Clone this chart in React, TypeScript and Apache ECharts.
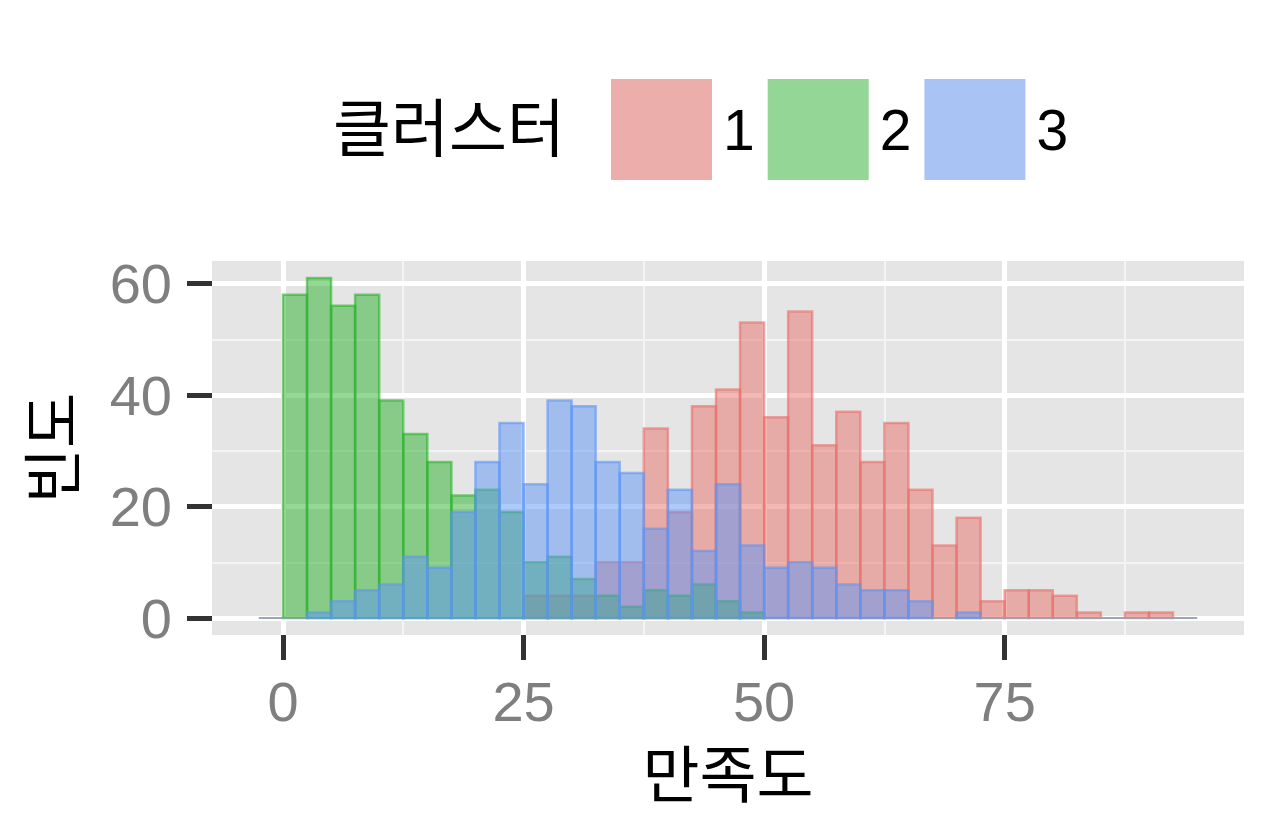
import React, { useEffect, useRef } from "react";
import * as echarts from "echarts";

// histogram bins (binwidth 2.5), 40 edges -> 39 bins
const binEdges = [
  -2.5, 0, 2.5, 5, 7.5, 10, 12.5, 15, 17.5, 20, 22.5, 25, 27.5, 30, 32.5, 35,
  37.5, 40, 42.5, 45, 47.5, 50, 52.5, 55, 57.5, 60, 62.5, 65, 67.5, 70, 72.5,
  75, 77.5, 80, 82.5, 85, 87.5, 90, 92.5, 95,
];

const cluster1 = [
  0, 0, 0, 0, 0, 0, 0, 0, 0, 0, 0, 4, 4, 4, 10, 10, 34, 19, 38, 41, 53, 36, 55,
  31, 37, 28, 35, 23, 13, 18, 3, 5, 5, 4, 1, 0, 1, 1, 0,
];
const cluster2 = [
  0, 58, 61, 56, 58, 39, 33, 28, 22, 23, 19, 10, 11, 7, 4, 2, 5, 4, 6, 3, 1, 0,
  0, 0, 0, 0, 0, 0, 0, 0, 0, 0, 0, 0, 0, 0, 0, 0, 0,
];
const cluster3 = [
  0, 0, 1, 3, 5, 6, 11, 9, 19, 28, 35, 24, 39, 38, 28, 26, 16, 23, 12, 24, 13,
  9, 10, 9, 6, 5, 5, 3, 0, 1, 0, 0, 0, 0, 0, 0, 0, 0, 0,
];

const clusterNames = ["1", "2", "3"];
const xMajorTicks = [0, 25, 50, 75];
const xMinorTicks = [12.5, 37.5, 62.5, 87.5];
const yMajorTicks = [0, 20, 40, 60];
const yMinorTicks = [10, 30, 50];

const baseColors = ["232,112,106", "44,178,44", "94,149,245"];
const legendColors = ["#EBAEAB", "#93D696", "#A9C4F4"];

const FONT = "'Liberation Sans', 'Noto Sans CJK KR', sans-serif";

const App: React.FC = () => {
  const chartRef = useRef<HTMLDivElement>(null);

  useEffect(() => {
    if (!chartRef.current) return;
    const chart = echarts.init(chartRef.current, undefined, { renderer: "svg" });

    const toBins = (counts: number[]) =>
      counts.map((c, i) => [binEdges[i], binEdges[i + 1], c]);

    const makeSeries = (name: string, counts: number[], idx: number) => {
      const fill = `rgba(${baseColors[idx]},0.5)`;
      const stroke = `rgba(${baseColors[idx]},0.6)`;
      return {
        type: "custom",
        name,
        xAxisIndex: 0,
        yAxisIndex: 0,
        clip: true,
        z: 2 + idx,
        itemStyle: { color: legendColors[idx] },
        data: toBins(counts),
        renderItem: (params: any, api: any) => {
          const p0 = api.coord([api.value(0), 0]);
          const p1 = api.coord([api.value(1), api.value(2)]);
          if (api.value(2) === 0) {
            return {
              type: "line",
              shape: { x1: p0[0], y1: p0[1], x2: p1[0], y2: p0[1] },
              style: { stroke: "rgba(150,160,175,0.6)", lineWidth: 2 },
            };
          }
          return {
            type: "rect",
            shape: {
              x: p0[0],
              y: p1[1],
              width: p1[0] - p0[0],
              height: p0[1] - p1[1],
            },
            style: { fill, stroke, lineWidth: 2.5 },
          };
        },
      };
    };

    const option = {
      animation: false,
      backgroundColor: "#ffffff",
      textStyle: { fontFamily: FONT },
      grid: {
        left: 212,
        right: 36,
        top: 261,
        bottom: 197,
        containLabel: false,
        outerBoundsMode: "none",
        show: true,
        backgroundColor: "#e5e5e5",
        borderWidth: 0,
      },
      legend: {
        left: 611,
        top: 79,
        padding: 0,
        itemWidth: 101,
        itemHeight: 101,
        itemGap: 13,
        icon: "rect",
        selectedMode: false,
        textStyle: {
          fontSize: 57,
          color: "#000",
          fontFamily: FONT,
          padding: [0, 0, 0, 6],
        },
        data: clusterNames.map((n, i) => ({
          name: n,
          itemStyle: { color: legendColors[i] },
        })),
      },
      graphic: [
        {
          type: "text",
          left: 333,
          top: 97,
          style: {
            text: "클러스터",
            fontSize: 63,
            fill: "#000",
            fontFamily: FONT,
          },
        },
      ],
      xAxis: [
        {
          type: "value",
          min: -7.375,
          max: 99.875,
          position: "bottom",
          z: 1,
          axisLine: { show: false, onZero: false },
          axisTick: {
            show: true,
            length: 25,
            customValues: xMajorTicks,
            lineStyle: { color: "#333333", width: 5 },
          },
          axisLabel: {
            customValues: xMajorTicks,
            fontSize: 56,
            color: "#7f7f7f",
            margin: 38,
            fontFamily: FONT,
          },
          splitLine: { show: true, lineStyle: { color: "#ffffff", width: 5 } },
          name: "만족도",
          nameLocation: "middle",
          nameGap: 110,
          nameTextStyle: { fontSize: 62, color: "#000", fontFamily: FONT },
        },
        {
          type: "value",
          min: -7.375,
          max: 99.875,
          position: "top",
          z: 0,
          axisLine: { show: false, onZero: false },
          axisTick: { show: false, customValues: xMinorTicks },
          axisLabel: { show: false, customValues: xMinorTicks },
          splitLine: { show: true, lineStyle: { color: "#f4f4f4", width: 2 } },
        },
      ],
      yAxis: [
        {
          type: "value",
          min: -3.05,
          max: 64.05,
          position: "left",
          z: 1,
          axisLine: { show: false, onZero: false },
          axisTick: {
            show: true,
            length: 25,
            customValues: yMajorTicks,
            lineStyle: { color: "#333333", width: 5 },
          },
          axisLabel: {
            customValues: yMajorTicks,
            fontSize: 56,
            color: "#7f7f7f",
            margin: 40,
            fontFamily: FONT,
          },
          splitLine: { show: true, lineStyle: { color: "#ffffff", width: 5 } },
          name: "빈도",
          nameLocation: "middle",
          nameGap: 128,
          nameRotate: 90,
          nameTextStyle: { fontSize: 60, color: "#000", fontFamily: FONT },
        },
        {
          type: "value",
          min: -3.05,
          max: 64.05,
          position: "right",
          z: 0,
          axisLine: { show: false, onZero: false },
          axisTick: { show: false, customValues: yMinorTicks },
          axisLabel: { show: false, customValues: yMinorTicks },
          splitLine: { show: true, lineStyle: { color: "#f4f4f4", width: 2 } },
        },
      ],
      series: [
        makeSeries(clusterNames[0], cluster1, 0),
        makeSeries(clusterNames[1], cluster2, 1),
        makeSeries(clusterNames[2], cluster3, 2),
      ],
    };

    chart.setOption(option as any);

    return () => {
      chart.dispose();
    };
  }, []);

  return (
    <div
      ref={chartRef}
      style={{ position: "fixed", left: 0, top: 0, width: 1280, height: 832 }}
    />
  );
};

export default App;
